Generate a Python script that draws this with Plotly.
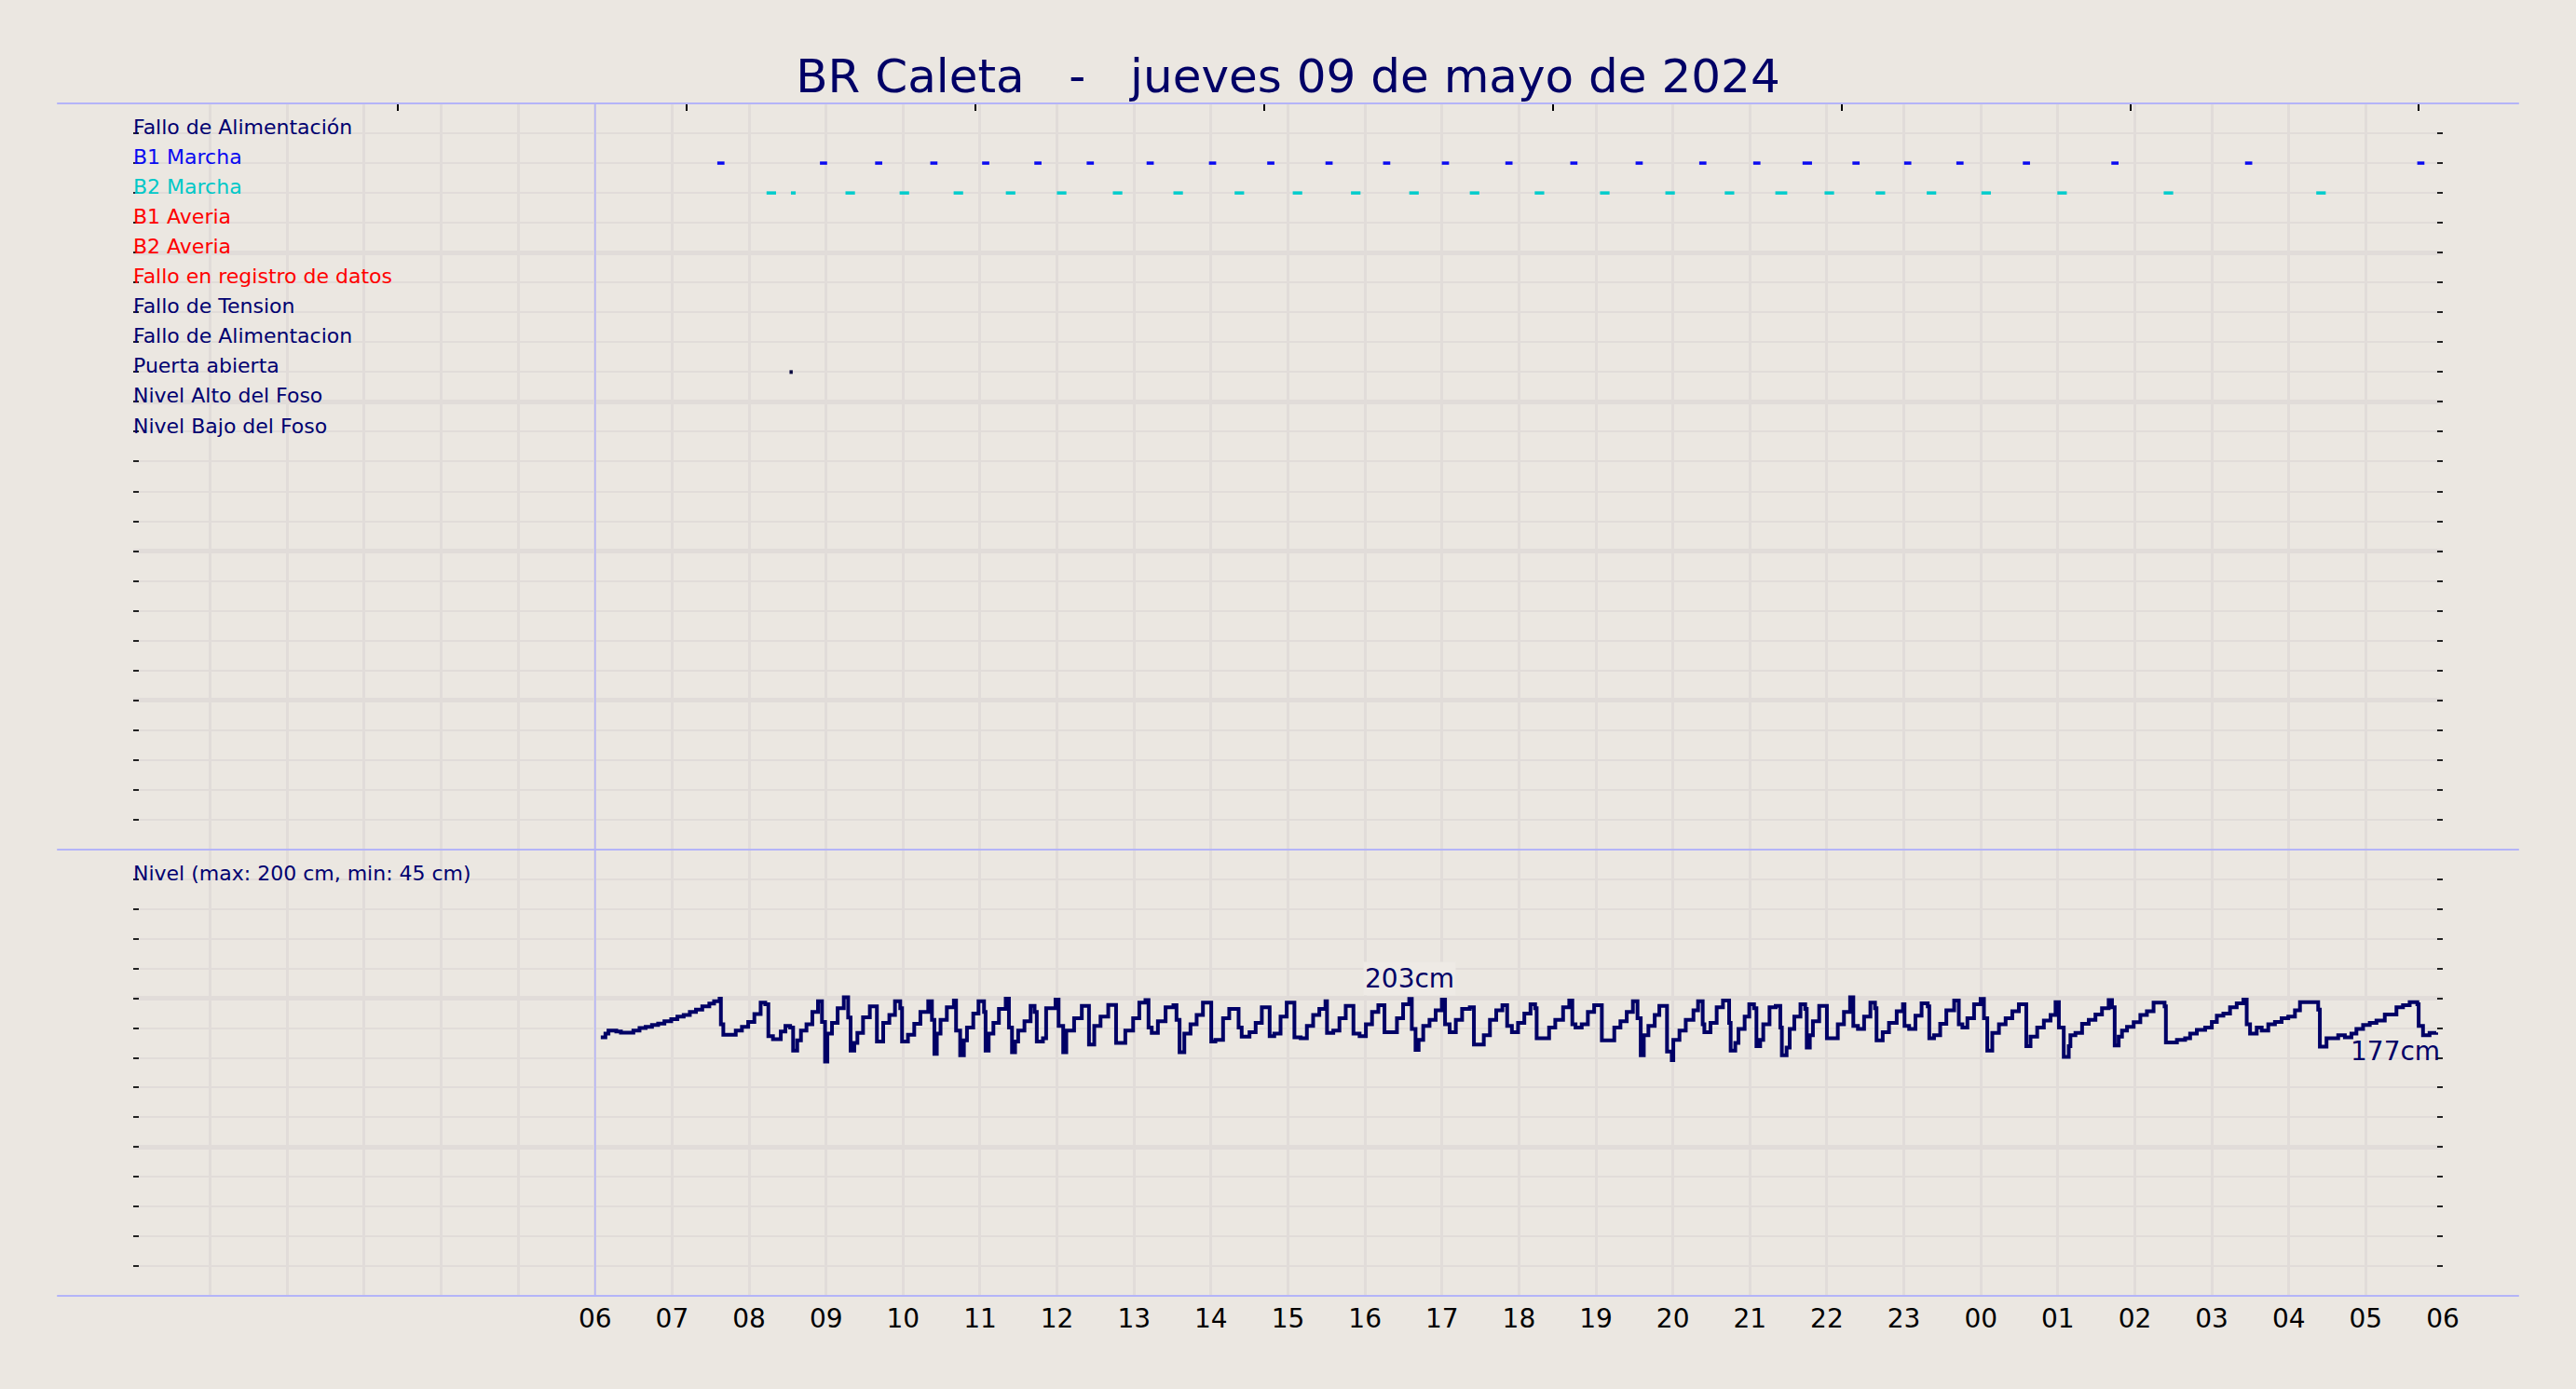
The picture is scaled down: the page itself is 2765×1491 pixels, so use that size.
import plotly.graph_objects as go

# Nivel del foso: minutos desde las 06:00 y nivel en cm
lvl_min = [
    4.4, 8.0, 10.4, 16.5, 20.1, 29.8, 34.6, 39.4, 44.3, 49.1, 54.0, 59.3, 64.1, 69.0, 73.8, 78.6, 83.5, 89.0, 92.7, 97.0,
    98.0, 99.9, 109.6, 114.4, 119.3, 124.1, 129.0, 132.6, 135.0, 138.6, 144.7, 148.3, 152.0, 154.3, 157.5, 160.4, 164.7, 169.3, 173.7, 176.8,
    179.2, 181.0, 184.6, 189.0, 193.8, 197.2, 199.1, 202.0, 204.4, 208.8, 214.1, 219.6, 224.5, 229.3, 233.7, 237.8, 239.2, 243.8, 248.7, 253.5,
    259.6, 262.5, 264.4, 266.3, 269.2, 274.1, 279.6, 281.3, 284.5, 287.4, 289.8, 294.7, 298.8, 303.1, 304.3, 306.7, 310.4, 314.7, 320.0, 322.5,
    324.9, 327.3, 329.7, 334.6, 339.4, 342.5, 344.2, 349.0, 351.5, 358.8, 361.2, 364.8, 367.2, 373.3, 379.3, 384.9, 389.0, 393.9, 399.9, 406.0,
    413.2, 419.3, 424.1, 428.9, 431.3, 433.8, 438.6, 444.6, 450.7, 453.1, 455.5, 459.2, 464.0, 468.8, 473.7, 480.2, 483.4, 489.4, 494.2, 501.5,
    503.9, 510.0, 514.8, 519.6, 525.7, 529.3, 534.2, 539.0, 545.0, 549.9, 554.7, 559.6, 564.4, 569.2, 570.4, 575.3, 580.1, 585.0, 591.0, 595.8,
    600.7, 605.5, 610.4, 615.2, 624.9, 629.7, 634.5, 636.5, 639.4, 641.8, 645.4, 650.3, 655.1, 659.9, 662.4, 666.0, 670.8, 675.7, 681.7, 684.9,
    692.6, 697.4, 702.3, 707.1, 710.8, 714.5, 719.3, 724.2, 729.0, 732.6, 733.8, 743.5, 748.3, 754.4, 759.2, 761.6, 764.1, 768.9, 773.7, 778.6,
    784.6, 794.3, 799.1, 804.0, 808.8, 812.4, 814.9, 817.3, 820.9, 825.8, 829.4, 835.4, 839.1, 840.3, 845.1, 850.0, 856.0, 859.6, 863.2, 864.5,
    869.3, 874.1, 879.0, 883.8, 885.0, 888.6, 891.1, 895.9, 899.5, 903.2, 905.1, 908.0, 910.4, 915.3, 920.1, 923.7, 924.9, 928.6, 931.0, 934.6,
    939.4, 943.1, 944.3, 946.7, 949.1, 954.0, 960.0, 968.5, 973.3, 978.1, 980.6, 984.2, 989.0, 993.9, 997.5, 998.7, 1003.5, 1008.4, 1014.4, 1019.3,
    1020.5, 1024.1, 1029.0, 1033.8, 1038.6, 1039.8, 1043.5, 1048.3, 1053.1, 1059.2, 1062.8, 1065.6, 1069.5, 1074.7, 1079.8, 1082.4, 1085.0, 1088.9, 1094.1, 1099.3,
    1104.5, 1109.6, 1115.4, 1118.7, 1123.9, 1129.1, 1134.3, 1138.2, 1140.8, 1144.6, 1148.5, 1149.8, 1153.7, 1158.9, 1164.1, 1169.3, 1174.4, 1179.6, 1182.2, 1184.3,
    1187.4, 1190.0, 1193.9, 1199.1, 1204.3, 1209.4, 1214.6, 1223.2, 1224.2, 1232.8, 1239.2, 1243.1, 1248.3, 1254.8, 1260.0, 1263.9, 1269.0, 1274.2, 1279.4, 1284.6,
    1287.2, 1289.8, 1295.0, 1298.9, 1304.0, 1309.2, 1314.4, 1319.6, 1324.8, 1328.7, 1342.9, 1344.2, 1349.4, 1358.5, 1363.7, 1368.8, 1372.7, 1377.9, 1383.1, 1388.3,
    1394.8, 1403.9, 1409.0, 1414.2, 1420.2, 1421.2, 1424.6, 1429.7, 1434.9,
]
lvl_cm = [
    173.8, 176.3, 178.3, 177.7, 176.9, 178.3, 180.0, 180.8, 182.1, 183.1, 184.6, 186.0, 187.7, 188.8, 190.8, 192.5, 194.6, 196.5, 198.1, 199.8,
    182.5, 175.6, 178.3, 180.8, 184.2, 189.4, 197.1, 196.0, 174.6, 172.5, 177.7, 181.5, 180.4, 164.8, 171.7, 178.3, 182.5, 190.8, 198.1, 184.2,
    157.5, 176.3, 183.5, 193.3, 200.8, 187.1, 164.8, 170.0, 176.7, 187.3, 194.6, 171.0, 183.5, 188.8, 198.1, 193.3, 171.0, 175.6, 182.9, 190.8,
    198.1, 185.6, 162.7, 176.3, 185.6, 194.0, 198.5, 178.3, 161.7, 171.7, 180.4, 189.8, 198.1, 190.8, 164.8, 176.3, 183.5, 192.9, 199.8, 180.4,
    163.8, 171.0, 178.3, 184.6, 195.0, 190.8, 171.0, 173.1, 193.3, 199.2, 181.5, 163.8, 178.3, 186.7, 195.0, 169.0, 181.5, 187.7, 195.6, 170.0,
    178.3, 186.7, 197.1, 198.8, 180.4, 176.7, 184.6, 194.0, 195.4, 185.6, 163.8, 176.3, 182.5, 188.8, 197.1, 171.0, 172.1, 186.7, 192.9, 180.4,
    174.2, 177.3, 183.5, 194.0, 174.6, 176.3, 187.7, 197.1, 173.8, 173.1, 181.5, 188.8, 192.9, 198.1, 176.7, 178.3, 186.7, 195.0, 176.3, 174.6,
    182.5, 190.8, 195.4, 177.3, 186.7, 196.0, 199.6, 179.4, 165.4, 172.1, 181.5, 185.6, 191.9, 199.2, 182.5, 177.3, 185.6, 192.9, 194.0, 169.0,
    175.2, 185.6, 191.9, 195.4, 181.5, 177.3, 183.5, 189.8, 196.0, 193.3, 173.1, 180.4, 185.6, 194.0, 198.5, 182.5, 180.4, 182.5, 190.8, 195.4,
    171.7, 180.4, 184.6, 190.8, 198.1, 186.7, 161.7, 175.2, 181.5, 188.8, 195.0, 164.2, 158.5, 172.1, 178.3, 185.6, 191.9, 198.1, 182.5, 177.3,
    183.5, 194.0, 198.5, 183.5, 164.8, 170.0, 179.4, 187.7, 196.0, 193.3, 167.9, 172.1, 182.5, 194.0, 195.0, 180.4, 161.7, 166.9, 179.4, 187.7,
    196.0, 192.9, 166.9, 175.2, 184.6, 195.0, 173.1, 182.5, 190.8, 200.8, 181.5, 179.4, 187.7, 197.1, 193.3, 171.7, 177.3, 183.5, 191.3, 196.0,
    181.5, 179.4, 188.3, 196.7, 194.6, 173.1, 175.2, 182.9, 191.9, 198.5, 182.5, 180.4, 186.7, 196.0, 199.6, 186.7, 164.8, 176.7, 182.5, 186.7,
    191.3, 196.0, 167.9, 174.2, 180.4, 185.0, 188.8, 197.5, 180.4, 160.6, 167.9, 175.2, 176.7, 182.9, 185.6, 189.2, 193.3, 198.8, 194.0, 168.3,
    174.2, 178.3, 180.8, 184.0, 188.8, 191.3, 197.1, 194.6, 170.4, 172.1, 173.1, 176.3, 178.8, 180.4, 184.2, 188.3, 189.8, 194.0, 196.7, 199.2,
    182.5, 176.3, 180.4, 178.3, 182.5, 184.2, 186.7, 187.7, 191.9, 197.5, 192.5, 167.5, 173.1, 175.2, 173.8, 176.3, 179.4, 182.1, 183.5, 185.0,
    189.2, 194.0, 195.4, 197.5, 196.0, 181.4, 175.2, 176.7, 177.1,
]

# Marchas de bombas (inicio / fin, minutos desde las 06:00)
b1_on = [95.2, 175.2, 218.2, 261.2, 301.6, 342.3, 383.1, 429.8, 478.4, 523.8, 569.2, 614.1, 659.9,
         709.4, 760.0, 810.9, 860.5, 902.6, 941.0, 979.9, 1020.2, 1060.9, 1112.7, 1181.7, 1285.9, 1420.1]
b1_off = [100.8, 180.8, 223.8, 266.8, 307.2, 347.9, 388.7, 435.4, 484.0, 529.4, 574.8, 619.7, 665.5,
          715.0, 765.6, 816.5, 866.1, 908.2, 948.4, 985.5, 1025.8, 1066.5, 1118.3, 1187.3, 1291.5, 1425.7]
b2_on = [133.6, 152.6, 195.1, 237.3, 279.4, 320.1, 359.9, 403.5, 450.7, 498.4, 543.7, 589.1, 634.5,
         681.7, 732.3, 783.2, 834.1, 880.4, 919.8, 958.2, 998.0, 1037.8, 1080.4, 1139.6, 1222.5, 1341.4]
b2_off = [141.0, 156.3, 202.5, 244.7, 286.8, 327.5, 367.3, 410.9, 458.1, 505.8, 551.1, 596.5, 641.9,
          689.1, 739.7, 790.6, 841.5, 887.8, 929.1, 965.6, 1005.4, 1045.2, 1087.8, 1147.0, 1229.9, 1348.8]
puerta_on = [151.5]
puerta_off = [154.0]

labels = ["Fallo de Alimentación", "B1 Marcha", "B2 Marcha", "B1 Averia", "B2 Averia",
          "Fallo en registro de datos", "Fallo de Tension", "Fallo de Alimentacion",
          "Puerta abierta", "Nivel Alto del Foso", "Nivel Bajo del Foso"]
label_colors = ["#000070", "#0a0af0", "#00c8c8", "#ff0000", "#ff0000", "#ff0000",
                "#000070", "#000070", "#000070", "#000070", "#000070"]

hour_vals = list(range(0, 31))
hour_text = ["" if h < 6 else "%02d" % (h % 24) for h in hour_vals]
top_ticks = [3.44, 7.19, 10.94, 14.69, 18.44, 22.19, 25.94, 29.69]

BG = "#ebe7e1"
GRID = "#e1dcd9"
NAVY = "#000066"
PURPLE = "#b4b4f8"
FONT = "DejaVu Sans"


def hrs(m):
    return 6 + m / 60.0


def segments(on, off, row):
    xs, ys = [], []
    for a, b in zip(on, off):
        xs += [hrs(a), hrs(b), None]
        ys += [row, row, None]
    return xs, ys


fig = go.Figure()

fig.add_trace(go.Scatter(x=[hrs(m) for m in lvl_min], y=lvl_cm, mode="lines",
                         line=dict(color=NAVY, width=4, shape="hv"),
                         xaxis="x", yaxis="y", hoverinfo="skip"))

for on, off, row, col, w in [(b1_on, b1_off, 2, "#0a0af0", 3.5), (b2_on, b2_off, 3, "#00cccc", 3.5),
                             (puerta_on, puerta_off, 9, "#0a0a40", 4)]:
    sx, sy = segments(on, off, row)
    fig.add_trace(go.Scatter(x=sx, y=sy, mode="lines", line=dict(color=col, width=w),
                             xaxis="x2", yaxis="y2", hoverinfo="skip"))

split = (1391 - 912) / 1280.0

annotations = []
for i, (txt, col) in enumerate(zip(labels, label_colors)):
    annotations.append(dict(text=txt, x=0, y=i + 1 - 0.2, xref="x2", yref="y2",
                            xanchor="left", yanchor="middle", showarrow=False, xshift=-2,
                            font=dict(size=22, color=col, family=FONT)))
annotations.append(dict(text="Nivel (max: 200 cm, min: 45 cm)", x=0, y=284, xref="x", yref="y",
                        xanchor="left", yanchor="middle", showarrow=False, xshift=-2,
                        font=dict(size=22, color="#000070", family=FONT)))
annotations.append(dict(text="203cm", x=hrs(634.5), y=199.6, xref="x", yref="y",
                        xanchor="center", yanchor="bottom", yshift=3, showarrow=False,
                        bgcolor="#eeeae5", font=dict(size=28, color=NAVY, family=FONT)))
annotations.append(dict(text="177cm", x=hrs(lvl_min[-1]), y=lvl_cm[-1], xref="x", yref="y",
                        xanchor="right", yanchor="top", yshift=-2, xshift=6, showarrow=False,
                        font=dict(size=28, color=NAVY, family=FONT)))

shapes = []
for yp in [0, split, 1]:
    shapes.append(dict(type="line", xref="paper", yref="paper", x0=-0.033, x1=1.033,
                       y0=yp, y1=yp, line=dict(color=PURPLE, width=2), layer="above"))
shapes.append(dict(type="line", xref="x", yref="paper", x0=6, x1=6, y0=0, y1=1,
                   line=dict(color=PURPLE, width=1.5), layer="above"))

ytick_style = dict(ticks="inside", ticklen=6, tickwidth=2, tickcolor="#222222",
                   showticklabels=False, zeroline=False, showline=False, mirror="ticks",
                   showgrid=True, gridcolor=GRID, gridwidth=5, tickmode="linear")

fig.update_layout(
    width=2765, height=1491,
    paper_bgcolor=BG, plot_bgcolor=BG,
    margin=dict(l=143, r=143, t=111, b=100),
    showlegend=False,
    font=dict(family=FONT),
    title=dict(text="BR Caleta\u00a0\u00a0\u00a0-\u00a0\u00a0\u00a0jueves 09 de mayo de 2024",
               x=0.5, xanchor="center", y=1 - 81 / 1491, yanchor="middle", yref="container",
               font=dict(size=50, color=NAVY, family=FONT)),
    xaxis=dict(domain=[0, 1], anchor="y", range=[0, 30], tickmode="array",
               tickvals=hour_vals, ticktext=hour_text, ticks="", showgrid=True,
               gridcolor=GRID, gridwidth=2.5, zeroline=False, showline=False,
               ticklabelstandoff=5,
               tickfont=dict(size=28, color="black", family=FONT)),
    xaxis2=dict(domain=[0, 1], anchor="y2", matches="x", side="top", tickmode="array",
                tickvals=top_ticks, ticks="inside", ticklen=8, tickwidth=1.5, tickcolor="black",
                showticklabels=False, showgrid=False, zeroline=False, showline=False,
                minor=dict(tickmode="linear", tick0=0, dtick=1, showgrid=True,
                           gridcolor=GRID, gridwidth=2.5, ticks="")),
    yaxis=dict(domain=[0, split], anchor="x", range=[0, 300], tick0=0, dtick=100,
               minor=dict(tick0=0, dtick=20, showgrid=True, gridcolor=GRID, gridwidth=2,
                          ticks="inside", ticklen=6, tickwidth=2, tickcolor="#222222"),
               **ytick_style),
    yaxis2=dict(domain=[split, 1], anchor="x2", range=[25, 0], tick0=0, dtick=5,
                minor=dict(tick0=0, dtick=1, showgrid=True, gridcolor=GRID, gridwidth=2,
                           ticks="inside", ticklen=6, tickwidth=2, tickcolor="#222222"),
                **ytick_style),
    annotations=annotations,
    shapes=shapes,
)

fig.write_html("out.html", config={"displayModeBar": False},
               post_script="document.body.style.margin='0';document.body.style.overflow='hidden';")
